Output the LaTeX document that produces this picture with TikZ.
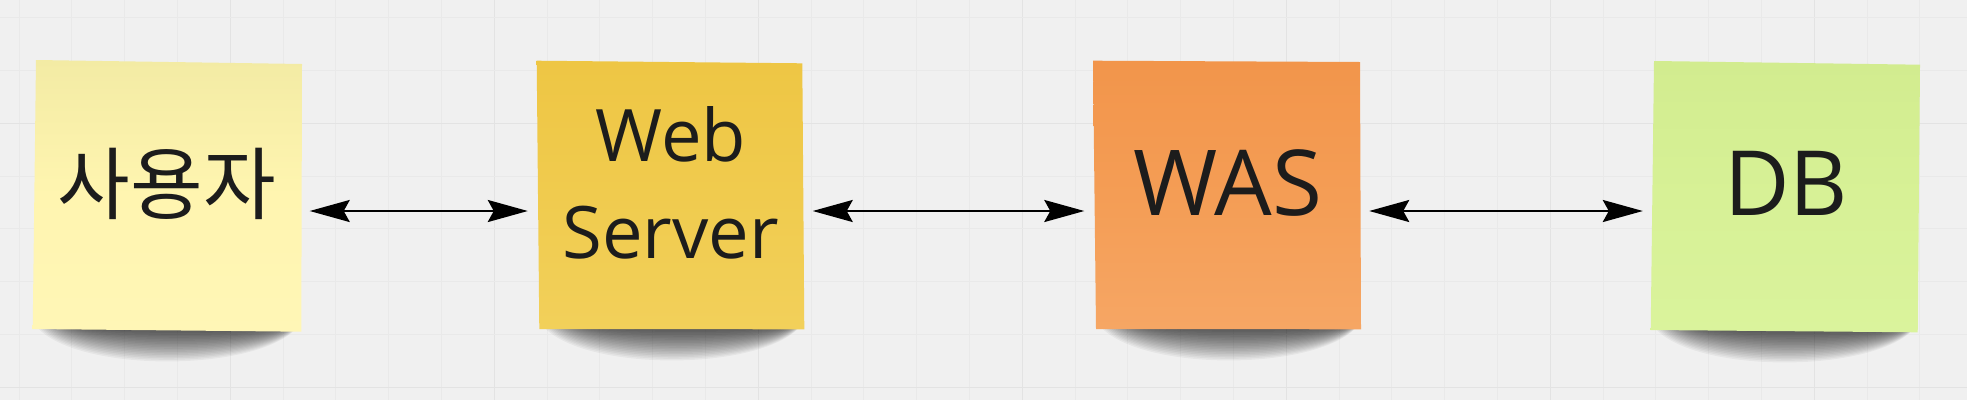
\documentclass[tikz,border=0pt]{standalone}
\usepackage{fontspec}
\newfontfamily\krfont{Noto Sans CJK KR}
\newfontfamily\latfont{Open Sans}
\usetikzlibrary{arrows.meta}
\definecolor{bgc}{HTML}{F0F0F0}
\definecolor{gridminor}{HTML}{E9E9E9}
\definecolor{gridmajor}{HTML}{E3E3E3}
\definecolor{inkc}{HTML}{1C1C1C}
\definecolor{n1top}{HTML}{F3EBA4}
\definecolor{n1mid}{HTML}{FFF5B0}
\definecolor{n1bot}{HTML}{FFF6B6}
\definecolor{n2top}{HTML}{EEC644}
\definecolor{n2mid}{HTML}{F0CB4E}
\definecolor{n2bot}{HTML}{F2D05A}
\definecolor{n3top}{HTML}{F2954B}
\definecolor{n3mid}{HTML}{F49D55}
\definecolor{n3bot}{HTML}{F6A664}
\definecolor{n4top}{HTML}{D2EC8F}
\definecolor{n4mid}{HTML}{D7F196}
\definecolor{n4bot}{HTML}{DAF39C}
\tikzset{
  notebox/.style={rectangle, inner sep=0pt, minimum width=267pt, minimum height=270pt},
  lbl/.style={inner sep=0pt, text=inkc},
  conn/.style={line width=2.4pt, draw=black,
    {Stealth[length=40pt,width=22pt,inset=6pt]}-{Stealth[length=40pt,width=22pt,inset=6pt]},
    shorten <=8.5pt, shorten >=9pt},
}
\newcommand\notesh[3]{%
  \foreach \i in {0,...,19}{%
    \pgfmathsetmacro\dd{3+2.1*\i}
    \pgfmathsetmacro\aa{40-1.9*\i}
    \pgfmathsetmacro\bb{10-0.35*\i}
    \fill[black,opacity=0.042] (#1+\aa,#3-3) .. controls (#1+\aa+40,#3+\dd) and (#2-\bb-40,#3+\dd) .. (#2-\bb,#3-3) -- cycle;}}
\begin{document}
\begin{tikzpicture}[x=1pt,y=-1pt]
\useasboundingbox (0,0) rectangle (1967,400);
\fill[bgc] (0,0) rectangle (1967,400);
% grid
\foreach \k in {0,...,36}{%
  \pgfmathsetmacro\gx{19.1+52.8*\k}
  \pgfmathtruncatemacro\gm{mod(\k+1,5)}
  \ifnum\gm=0
    \draw[gridmajor,line width=1.5pt] (\gx,0) -- (\gx,400);
  \else
    \draw[gridminor,line width=1.1pt] (\gx,0) -- (\gx,400);
  \fi}
\foreach \j in {0,...,7}{%
  \pgfmathsetmacro\gy{17.7+52.8*\j}
  \pgfmathtruncatemacro\gm{mod(\j+3,5)}
  \ifnum\gm=0
    \draw[gridmajor,line width=1.5pt] (0,\gy) -- (1967,\gy);
  \else
    \draw[gridminor,line width=1.1pt] (0,\gy) -- (1967,\gy);
  \fi}
% shadows
\notesh{33}{301}{330}
\notesh{539}{804}{329}
\notesh{1096}{1361}{329}
\notesh{1651}{1918}{331}
% sticky notes
\shade[top color=n1top, bottom color=n1bot, middle color=n1mid] (36,60) -- (302,64) -- (301.3,331.7) -- (32.7,329) -- cycle;
\shade[top color=n2top, bottom color=n2bot, middle color=n2mid] (536.7,60.7) -- (802.3,63.3) -- (804.3,329.3) -- (539.3,329) -- cycle;
\shade[top color=n3top, bottom color=n3bot, middle color=n3mid] (1093,60.7) -- (1360,62) -- (1361,329.3) -- (1096,329) -- cycle;
\shade[top color=n4top, bottom color=n4bot, middle color=n4mid] (1654,61) -- (1920,64.7) -- (1917.7,332.3) -- (1650.7,330) -- cycle;
\node[notebox] (user) at (167.5,195.5) {};
\node[notebox] (web) at (670.5,195) {};
\node[notebox] (was) at (1227,195) {};
\node[notebox] (db) at (1785.5,196.5) {};
% labels
\node[lbl, font=\krfont\fontsize{79}{90}\selectfont, anchor=base] (userlbl) at (167,213) {사용자};
\node[lbl, font=\latfont\fontsize{72.4}{90}\selectfont, anchor=base] (weblbl) at (670.8,161.7) {Web};
\node[lbl, font=\latfont\fontsize{72.4}{90}\selectfont, anchor=base] (serverlbl) at (670.8,258.3) {Server};
\node[lbl, font=\latfont\fontsize{91}{100}\selectfont, anchor=base] (waslbl) at (1228,215) {WAS};
\node[lbl, font=\latfont\fontsize{90}{100}\selectfont, anchor=base] (dblbl) at (1786,215) {DB};
% connectors
\coordinate (ay) at (0,211);
\draw[conn] (user.east |- ay) -- (web.west |- ay);
\draw[conn] (web.east |- ay) -- (was.west |- ay);
\draw[conn] (was.east |- ay) -- (db.west |- ay);
\end{tikzpicture}
\end{document}
